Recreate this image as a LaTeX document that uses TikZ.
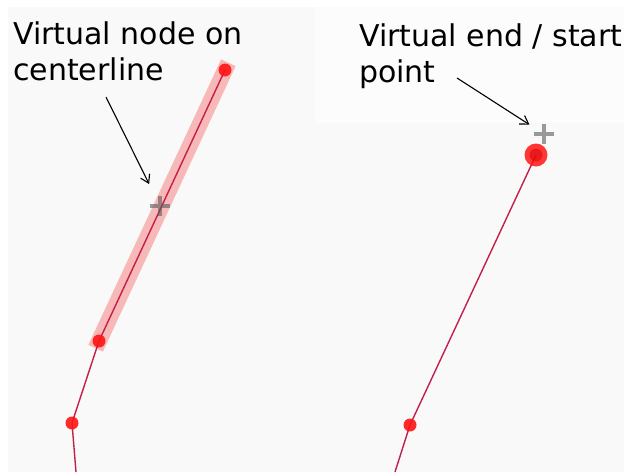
\documentclass[tikz,border=0pt]{standalone}
\usepackage{fontspec}
\setmainfont{DejaVu Sans}
\usetikzlibrary{positioning,arrows.meta,shapes.misc}
\definecolor{canvas}{HTML}{F9F9F9}
\definecolor{labelbg}{HTML}{FCFCFC}
\definecolor{wayline}{HTML}{C41E4A}
\definecolor{vertexred}{HTML}{FF1414}
\definecolor{bandpink}{HTML}{F7A8A8}
\tikzset{
  vertex/.style={
    circle, fill=vertexred, fill opacity=0.9,
    inner sep=0pt, minimum size=13pt
  },
  endvertex/.style={
    circle, fill=vertexred, fill opacity=0.85,
    inner sep=0pt, minimum size=23pt
  },
  waypath/.style={draw=wayline, line width=1.4pt},
  band/.style={draw=bandpink, draw opacity=0.8, line width=16pt, line cap=rect},
  virtualmark/.style={
    cross out, draw=gray!80, line width=3.2pt,
    minimum size=11pt, inner sep=0pt, rotate=45
  },
  caption/.style={
    anchor=north west, align=left, inner sep=0pt,
    font=\fontsize{30}{36}\selectfont
  },
  pointer/.style={-{Straight Barb[length=8pt,width=10pt]}, line width=1.1pt}
}
\begin{document}
\begin{tikzpicture}[x=1pt, y=-1pt]
  \useasboundingbox (0,0) rectangle (624,472);
  \fill[white] (0,0) rectangle (624,472);
  \fill[canvas] (8,7) rectangle (624,472);
  \fill[labelbg] (315,7) rectangle (624,123);

  \coordinate (a1) at (225,70);
  \coordinate (a2) at (99,341);
  \coordinate (a3) at (72,423);
  \coordinate (a4) at (76,472);
  \coordinate (b1) at (536,155);
  \coordinate (b2) at (410,425);
  \coordinate (b3) at (395,472);

  \draw[band] (a1) -- (a2);
  \draw[waypath] (a1) -- (a2) -- (a3) -- (a4);
  \draw[waypath] (b1) -- (b2) -- (b3);

  \node[vertex] (va1) at (a1) {};
  \node[vertex] (va2) at (a2) {};
  \node[vertex] (va3) at (a3) {};
  \node[vertex] (vb2) at (b2) {};
  \node[endvertex] (vb1) at (b1) {};
  \node[circle, fill=red!85!black, fill opacity=0.5, inner sep=0pt, minimum size=13pt] (vb1core) at (b1) {};

  \node[virtualmark, draw=gray!70!black, draw opacity=0.6] (mid) at (160,206) {};
  \node[virtualmark] (tip) at (544,134) {};

  \node[caption] (midtext) at (13,22) {Virtual node on\\centerline};
  \node[caption] (tiptext) at (359,24) {Virtual end / start\\point};

  \coordinate (midtail) at (106,97);
  \coordinate (tiptail) at (457,78);
  \draw[pointer, shorten >=17pt] (midtail) -- (mid);
  \draw[pointer, shorten >=10pt] (tiptail) -- (tip);
\end{tikzpicture}
\end{document}
